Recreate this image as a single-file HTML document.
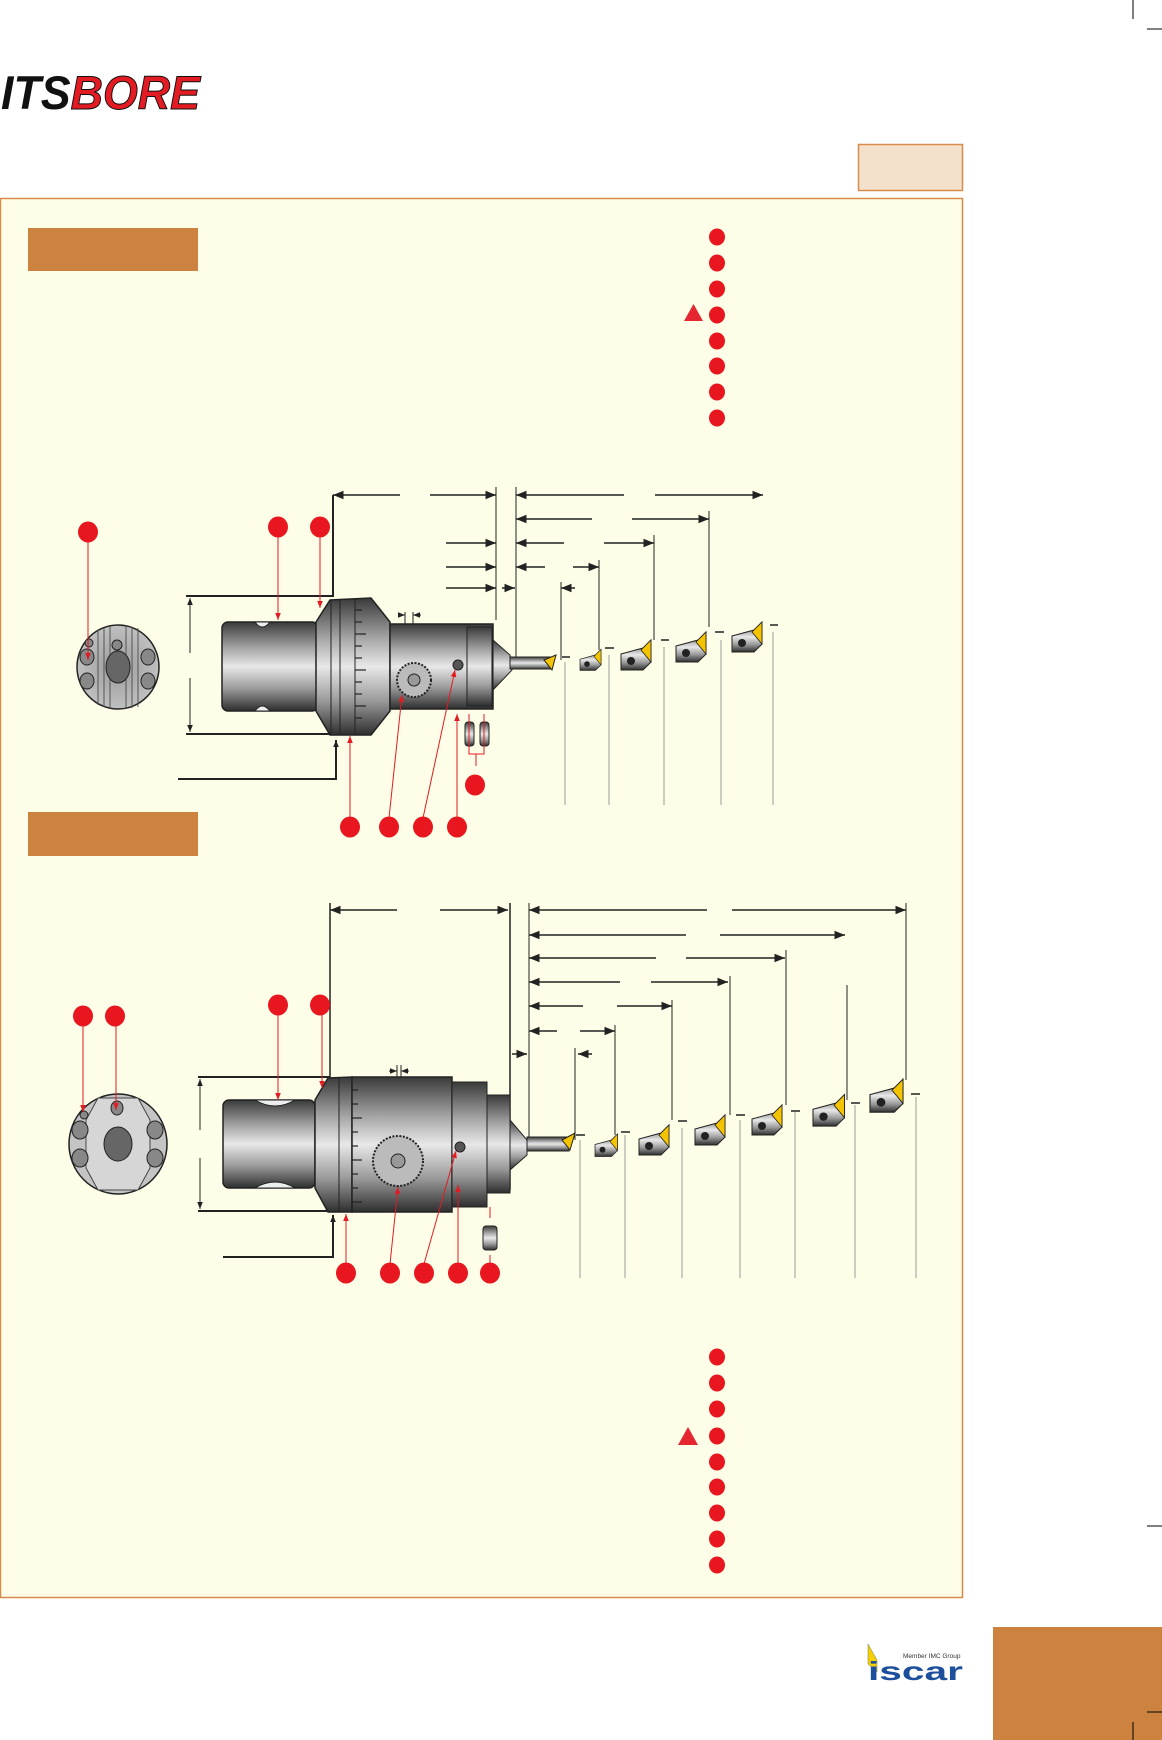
<!DOCTYPE html>
<html><head><meta charset="utf-8"><style>
html,body{margin:0;padding:0;background:#fff;}
svg{display:block;}
</style></head><body>
<svg width="1162" height="1740" viewBox="0 0 1162 1740" xmlns="http://www.w3.org/2000/svg" font-family="Liberation Sans, sans-serif">
<defs>
<linearGradient id="cyl" x1="0" y1="0" x2="0" y2="1">
<stop offset="0" stop-color="#3a3a3a"/><stop offset="0.3" stop-color="#a8a8a8"/><stop offset="0.5" stop-color="#e8e8e8"/><stop offset="0.75" stop-color="#9a9a9a"/><stop offset="1" stop-color="#2e2e2e"/>
</linearGradient>
<radialGradient id="disc" cx="0.5" cy="0.5" r="0.6">
<stop offset="0" stop-color="#9a9a9a"/><stop offset="1" stop-color="#c8c8c8"/>
</radialGradient>
<marker id="ar" viewBox="0 0 10 10" refX="10" refY="5" markerWidth="7" markerHeight="7" orient="auto-start-reverse"><path d="M0,1 L10,5 L0,9 z" fill="#222"/></marker>
<marker id="rr" viewBox="0 0 10 10" refX="10" refY="5" markerWidth="7" markerHeight="7" orient="auto-start-reverse"><path d="M0,1 L10,5 L0,9 z" fill="#e31b23"/></marker>
<g id="ins">
<path d="M0,6 L22,0 L30,-8 L30,14 L22,22 L0,22 z" fill="url(#cyl)" stroke="#222" stroke-width="1"/>
<path d="M20,2 L30,-8 L30,14 z" fill="#f5c400" stroke="#222" stroke-width="0.8"/>
<circle cx="10" cy="13" r="4" fill="#222"/>
</g>
</defs>

<!-- crop marks -->
<line x1="1133" y1="0" x2="1133" y2="19" stroke="#000" stroke-width="1"/>
<line x1="1147" y1="29" x2="1162" y2="29" stroke="#000" stroke-width="1"/>
<line x1="1147" y1="1526" x2="1162" y2="1526" stroke="#000" stroke-width="1"/>

<!-- logo -->
<text x="1" y="109" font-size="47" font-weight="bold" font-style="italic" textLength="199" lengthAdjust="spacingAndGlyphs"><tspan fill="#111">ITS</tspan><tspan fill="#e31b23" stroke="#111" stroke-width="1">BORE</tspan></text>

<!-- tan box -->
<rect x="858.5" y="144.5" width="104" height="46" fill="#f3e1cc" stroke="#d98b4b" stroke-width="1.5"/>

<!-- main panel -->
<rect x="0.5" y="198.5" width="962" height="1399" fill="#fefee8" stroke="#d98b4b" stroke-width="1.5"/>

<rect x="28" y="228" width="170" height="43" fill="#cd8340"/>
<rect x="28" y="812" width="170" height="44" fill="#cd8340"/>

<!-- top legend dots -->
<g fill="#e8171f">
<ellipse cx="717" cy="237" rx="8" ry="8.5"/><ellipse cx="717" cy="263" rx="8" ry="8.5"/><ellipse cx="717" cy="289" rx="8" ry="8.5"/><ellipse cx="717" cy="315" rx="8" ry="8.5"/>
<ellipse cx="717" cy="341" rx="8" ry="8.5"/><ellipse cx="717" cy="366" rx="8" ry="8.5"/><ellipse cx="717" cy="392" rx="8" ry="8.5"/><ellipse cx="717" cy="418" rx="8" ry="8.5"/>
<path d="M684,321 L703,321 L693.5,304 z" fill="#e32630"/>
</g>

<!-- ============ DIAGRAM 1 ============ -->
<g stroke="#222" stroke-width="1.5" fill="none">
<line x1="333" y1="495" x2="400" y2="495" marker-start="url(#ar)"/><line x1="430" y1="495" x2="496" y2="495" marker-end="url(#ar)"/>
<line x1="516" y1="495" x2="624" y2="495" marker-start="url(#ar)"/><line x1="655" y1="495" x2="763" y2="495" marker-end="url(#ar)"/>
<line x1="516" y1="519" x2="592" y2="519" marker-start="url(#ar)"/><line x1="632" y1="519" x2="709" y2="519" marker-end="url(#ar)"/>
<line x1="446" y1="543" x2="496" y2="543" marker-end="url(#ar)"/>
<line x1="516" y1="543" x2="564" y2="543" marker-start="url(#ar)"/><line x1="604" y1="543" x2="654" y2="543" marker-end="url(#ar)"/>
<line x1="446" y1="567" x2="496" y2="567" marker-end="url(#ar)"/>
<line x1="516" y1="567" x2="545" y2="567" marker-start="url(#ar)"/><line x1="573" y1="567" x2="599" y2="567" marker-end="url(#ar)"/>
<line x1="446" y1="588" x2="496" y2="588" marker-end="url(#ar)"/>
<line x1="502" y1="588" x2="515" y2="588" marker-end="url(#ar)"/>
<line x1="575" y1="588" x2="561" y2="588" marker-end="url(#ar)"/>
</g>
<g stroke="#222" stroke-width="1" fill="none">
<line x1="496" y1="487" x2="496" y2="620"/><line x1="516" y1="487" x2="516" y2="660"/>
<line x1="709" y1="511" x2="709" y2="627"/><line x1="654" y1="535" x2="654" y2="640"/>
<line x1="599" y1="560" x2="599" y2="650"/><line x1="561" y1="582" x2="561" y2="660"/>
<path d="M333,495 L333,596 L186,596" stroke-width="2"/>
<line x1="186" y1="734" x2="333" y2="734" stroke-width="2"/>
<line x1="190" y1="598" x2="190" y2="653" marker-start="url(#ar)"/>
<line x1="190" y1="678" x2="190" y2="732" marker-end="url(#ar)"/>
<path d="M178,779 L336,779 L336,740" stroke-width="2"/>
<line x1="336" y1="760" x2="336" y2="740" marker-end="url(#ar)"/>
<line x1="405" y1="612" x2="405" y2="665"/><line x1="413" y1="612" x2="413" y2="665"/>
<line x1="398" y1="615" x2="405" y2="615" marker-end="url(#ar)"/><line x1="421" y1="615" x2="413" y2="615" marker-end="url(#ar)"/>
</g>
<!-- front view 1 -->
<ellipse cx="118" cy="667" rx="41" ry="42" fill="url(#disc)" stroke="#222" stroke-width="1.5"/>
<g stroke="#555" stroke-width="1">
<line x1="98" y1="630" x2="98" y2="705"/><line x1="104" y1="628" x2="104" y2="707"/><line x1="110" y1="627" x2="110" y2="708"/><line x1="126" y1="627" x2="126" y2="708"/><line x1="132" y1="627" x2="132" y2="708"/><line x1="138" y1="628" x2="138" y2="707"/>
</g>
<ellipse cx="118" cy="667" rx="12" ry="16" fill="#666" stroke="#222"/>
<g fill="#888" stroke="#222"><ellipse cx="87" cy="657" rx="7" ry="8"/><ellipse cx="87" cy="681" rx="7" ry="8"/><ellipse cx="148" cy="657" rx="7" ry="8"/><ellipse cx="148" cy="681" rx="7" ry="8"/><circle cx="117" cy="645" r="5"/><circle cx="89" cy="643" r="4"/></g>
<!-- tool body 1 -->
<rect x="222" y="622" width="96" height="89" rx="6" fill="url(#cyl)" stroke="#222" stroke-width="1.5"/>
<path d="M255,622 Q262,632 270,622 z M255,711 Q262,701 270,711 z" fill="#eee" stroke="#222"/>
<path d="M316,622 L330,600 L371,598 L390,622 L390,711 L371,735 L330,735 L316,711 z" fill="url(#cyl)" stroke="#222" stroke-width="1.5"/>
<line x1="331" y1="600" x2="331" y2="735" stroke="#222"/><line x1="340" y1="600" x2="340" y2="735" stroke="#222"/><line x1="355" y1="598" x2="355" y2="735" stroke="#222"/>
<g stroke="#222" stroke-width="1.2"><line x1="355" y1="610" x2="362" y2="610"/><line x1="355" y1="622" x2="362" y2="622"/><line x1="355" y1="634" x2="366" y2="634"/><line x1="355" y1="646" x2="362" y2="646"/><line x1="355" y1="658" x2="362" y2="658"/><line x1="355" y1="670" x2="366" y2="670"/><line x1="355" y1="682" x2="362" y2="682"/><line x1="355" y1="694" x2="362" y2="694"/><line x1="355" y1="706" x2="366" y2="706"/><line x1="355" y1="718" x2="362" y2="718"/></g>
<rect x="390" y="624" width="103" height="85" fill="url(#cyl)" stroke="#222" stroke-width="1.5"/>
<rect x="467" y="627" width="25" height="79" fill="url(#cyl)" stroke="#222"/>
<circle cx="414" cy="680" r="17" fill="#bbb" stroke="#222" stroke-width="2" stroke-dasharray="2 1.5"/><circle cx="414" cy="680" r="6" fill="#999" stroke="#222"/>
<circle cx="458" cy="665" r="5" fill="#555" stroke="#222"/>
<path d="M493,640 L510,655 L512,670 L493,690 z" fill="url(#cyl)" stroke="#222"/>
<rect x="510" y="657" width="42" height="12" fill="url(#cyl)" stroke="#222"/>
<path d="M544,660 L556,655 L552,670 z" fill="#f5c400" stroke="#222"/>
<rect x="465" y="722" width="9" height="24" rx="3" fill="url(#cyl)" stroke="#222"/><rect x="480" y="722" width="9" height="24" rx="3" fill="url(#cyl)" stroke="#222"/>
<path d="M469,714 L469,754 L484,754 L484,714 M476,754 L476,766" stroke="#e31b23" fill="none"/>
<use href="#ins" transform="translate(580,655) scale(0.7)"/>
<use href="#ins" transform="translate(621,648) scale(1)"/>
<use href="#ins" transform="translate(676,640) scale(1)"/>
<use href="#ins" transform="translate(732,630) scale(1)"/>
<g stroke="#999" stroke-width="1"><line x1="565" y1="662" x2="565" y2="805"/><line x1="609" y1="655" x2="609" y2="805"/><line x1="664" y1="647" x2="664" y2="805"/><line x1="721" y1="640" x2="721" y2="805"/><line x1="773" y1="632" x2="773" y2="805"/></g>
<g stroke="#222" stroke-width="1.5"><line x1="562" y1="657" x2="570" y2="657"/><line x1="605" y1="648" x2="614" y2="648"/><line x1="661" y1="640" x2="669" y2="640"/><line x1="715" y1="632" x2="724" y2="632"/><line x1="770" y1="625" x2="778" y2="625"/></g>
<!-- red leaders 1 -->
<g stroke="#e31b23" stroke-width="1" fill="none">
<line x1="88" y1="540" x2="88" y2="660" marker-end="url(#rr)"/>
<line x1="278" y1="535" x2="278" y2="620" marker-end="url(#rr)"/>
<line x1="320" y1="535" x2="320" y2="608" marker-end="url(#rr)"/>
<line x1="350" y1="818" x2="350" y2="736" marker-end="url(#rr)"/>
<line x1="389" y1="818" x2="402" y2="695" marker-end="url(#rr)"/>
<line x1="423" y1="818" x2="455" y2="670" marker-end="url(#rr)"/>
<line x1="457" y1="818" x2="457" y2="714" marker-end="url(#rr)"/>
</g>
<g fill="#e8171f">
<ellipse cx="88" cy="532" rx="10" ry="10.5"/><ellipse cx="278" cy="527" rx="10" ry="10.5"/><ellipse cx="320" cy="527" rx="10" ry="10.5"/>
<ellipse cx="350" cy="827" rx="10" ry="10.5"/><ellipse cx="389" cy="827" rx="10" ry="10.5"/><ellipse cx="423" cy="827" rx="10" ry="10.5"/><ellipse cx="457" cy="827" rx="10" ry="10.5"/><ellipse cx="475" cy="785" rx="10" ry="10.5"/>
</g>

<!-- ============ DIAGRAM 2 ============ -->
<g stroke="#222" stroke-width="1.5" fill="none">
<line x1="330" y1="910" x2="397" y2="910" marker-start="url(#ar)"/><line x1="440" y1="910" x2="508" y2="910" marker-end="url(#ar)"/>
<line x1="529" y1="910" x2="707" y2="910" marker-start="url(#ar)"/><line x1="732" y1="910" x2="906" y2="910" marker-end="url(#ar)"/>
<line x1="529" y1="935" x2="686" y2="935" marker-start="url(#ar)"/><line x1="720" y1="935" x2="845" y2="935" marker-end="url(#ar)"/>
<line x1="529" y1="958" x2="656" y2="958" marker-start="url(#ar)"/><line x1="686" y1="958" x2="785" y2="958" marker-end="url(#ar)"/>
<line x1="529" y1="982" x2="620" y2="982" marker-start="url(#ar)"/><line x1="651" y1="982" x2="728" y2="982" marker-end="url(#ar)"/>
<line x1="529" y1="1006" x2="583" y2="1006" marker-start="url(#ar)"/><line x1="617" y1="1006" x2="672" y2="1006" marker-end="url(#ar)"/>
<line x1="529" y1="1031" x2="557" y2="1031" marker-start="url(#ar)"/><line x1="580" y1="1031" x2="615" y2="1031" marker-end="url(#ar)"/>
<line x1="512" y1="1054" x2="527" y2="1054" marker-end="url(#ar)"/>
<line x1="592" y1="1054" x2="578" y2="1054" marker-end="url(#ar)"/>
</g>
<g stroke="#222" stroke-width="1" fill="none">
<line x1="330" y1="903" x2="330" y2="1210" stroke-width="1.5"/><line x1="510" y1="903" x2="510" y2="1190" stroke-width="1.5"/><line x1="529" y1="903" x2="529" y2="1150"/>
<line x1="906" y1="903" x2="906" y2="1080"/><line x1="847" y1="985" x2="847" y2="1100"/><line x1="786" y1="950" x2="786" y2="1105"/>
<line x1="730" y1="976" x2="730" y2="1115"/><line x1="672" y1="1000" x2="672" y2="1120"/><line x1="615" y1="1025" x2="615" y2="1135"/><line x1="575" y1="1048" x2="575" y2="1140"/>
<line x1="198" y1="1077" x2="330" y2="1077" stroke-width="2"/><line x1="198" y1="1211" x2="330" y2="1211" stroke-width="2"/>
<line x1="200" y1="1079" x2="200" y2="1130" marker-start="url(#ar)"/><line x1="200" y1="1158" x2="200" y2="1209" marker-end="url(#ar)"/>
<path d="M223,1257 L333,1257 L333,1215" stroke-width="2"/>
<line x1="333" y1="1240" x2="333" y2="1215" marker-end="url(#ar)"/>
<line x1="397" y1="1065" x2="397" y2="1140"/><line x1="401" y1="1065" x2="401" y2="1140"/>
<line x1="389" y1="1071" x2="397" y2="1071" marker-end="url(#ar)"/><line x1="409" y1="1071" x2="401" y2="1071" marker-end="url(#ar)"/>
</g>
<!-- front view 2 -->
<ellipse cx="118" cy="1144" rx="49" ry="50" fill="#c4c4c4" stroke="#222" stroke-width="1.5"/>
<path d="M98,1098 L138,1098 L150,1120 L150,1168 L138,1190 L98,1190 L86,1168 L86,1120 z" fill="#d6d6d6" stroke="#444"/>
<ellipse cx="118" cy="1144" rx="14" ry="17" fill="#666" stroke="#222"/>
<g fill="#888" stroke="#222"><ellipse cx="80" cy="1130" rx="8" ry="9"/><ellipse cx="80" cy="1158" rx="8" ry="9"/><ellipse cx="155" cy="1130" rx="8" ry="9"/><ellipse cx="155" cy="1158" rx="8" ry="9"/><ellipse cx="117" cy="1108" rx="6" ry="7"/><circle cx="84" cy="1115" r="4"/></g>
<!-- tool body 2 -->
<rect x="223" y="1100" width="92" height="88" rx="6" fill="url(#cyl)" stroke="#222" stroke-width="1.5"/>
<path d="M255,1100 Q275,1112 295,1100 z M255,1188 Q275,1176 295,1188 z" fill="#eee" stroke="#222"/>
<path d="M315,1100 L328,1078 L352,1077 L352,1212 L328,1212 L315,1188 z" fill="url(#cyl)" stroke="#222" stroke-width="1.5"/>
<line x1="339" y1="1078" x2="339" y2="1212" stroke="#222"/>
<rect x="352" y="1077" width="100" height="135" fill="url(#cyl)" stroke="#222" stroke-width="1.5"/>
<rect x="452" y="1082" width="35" height="125" fill="url(#cyl)" stroke="#222"/>
<rect x="487" y="1095" width="23" height="98" fill="url(#cyl)" stroke="#222"/>
<g stroke="#222" stroke-width="1.2"><line x1="352" y1="1090" x2="358" y2="1090"/><line x1="352" y1="1104" x2="358" y2="1104"/><line x1="352" y1="1118" x2="362" y2="1118"/><line x1="352" y1="1132" x2="358" y2="1132"/><line x1="352" y1="1146" x2="358" y2="1146"/><line x1="352" y1="1160" x2="362" y2="1160"/><line x1="352" y1="1174" x2="358" y2="1174"/><line x1="352" y1="1188" x2="358" y2="1188"/><line x1="352" y1="1202" x2="362" y2="1202"/></g>
<circle cx="398" cy="1161" r="25" fill="#bbb" stroke="#222" stroke-width="2" stroke-dasharray="2 1.5"/><circle cx="398" cy="1161" r="7" fill="#999" stroke="#222"/>
<circle cx="460" cy="1147" r="5" fill="#555" stroke="#222"/>
<path d="M510,1120 L527,1140 L527,1155 L510,1170 z" fill="url(#cyl)" stroke="#222"/>
<rect x="527" y="1137" width="42" height="14" fill="url(#cyl)" stroke="#222"/>
<path d="M562,1140 L575,1133 L570,1150 z" fill="#f5c400" stroke="#222"/>
<rect x="483" y="1226" width="14" height="24" rx="3" fill="url(#cyl)" stroke="#222"/>
<use href="#ins" transform="translate(595,1140) scale(0.75)"/>
<use href="#ins" transform="translate(639,1133) scale(1)"/>
<use href="#ins" transform="translate(695,1123) scale(1)"/>
<use href="#ins" transform="translate(752,1113) scale(1)"/>
<use href="#ins" transform="translate(813,1103) scale(1.05)"/>
<use href="#ins" transform="translate(870,1088) scale(1.1)"/>
<g stroke="#999" stroke-width="1"><line x1="580" y1="1140" x2="580" y2="1278"/><line x1="625" y1="1135" x2="625" y2="1278"/><line x1="682" y1="1128" x2="682" y2="1278"/><line x1="740" y1="1120" x2="740" y2="1278"/><line x1="795" y1="1112" x2="795" y2="1278"/><line x1="855" y1="1105" x2="855" y2="1278"/><line x1="916" y1="1097" x2="916" y2="1278"/></g>
<g stroke="#222" stroke-width="1.5"><line x1="576" y1="1135" x2="585" y2="1135"/><line x1="621" y1="1132" x2="630" y2="1132"/><line x1="678" y1="1121" x2="687" y2="1121"/><line x1="736" y1="1115" x2="745" y2="1115"/><line x1="791" y1="1111" x2="800" y2="1111"/><line x1="851" y1="1103" x2="860" y2="1103"/><line x1="911" y1="1094" x2="920" y2="1094"/></g>
<!-- red leaders 2 -->
<g stroke="#e31b23" stroke-width="1" fill="none">
<line x1="83" y1="1025" x2="83" y2="1112" marker-end="url(#rr)"/>
<line x1="116" y1="1025" x2="116" y2="1110" marker-end="url(#rr)"/>
<line x1="278" y1="1015" x2="278" y2="1100" marker-end="url(#rr)"/>
<line x1="322" y1="1015" x2="322" y2="1088" marker-end="url(#rr)"/>
<line x1="346" y1="1264" x2="346" y2="1214" marker-end="url(#rr)"/>
<line x1="390" y1="1264" x2="398" y2="1187" marker-end="url(#rr)"/>
<line x1="424" y1="1264" x2="456" y2="1151" marker-end="url(#rr)"/>
<line x1="458" y1="1264" x2="458" y2="1185" marker-end="url(#rr)"/>
<line x1="490" y1="1207" x2="490" y2="1218"/><line x1="490" y1="1255" x2="490" y2="1264"/>
</g>
<g fill="#e8171f">
<ellipse cx="83" cy="1016" rx="10" ry="10.5"/><ellipse cx="115" cy="1016" rx="10" ry="10.5"/>
<ellipse cx="278" cy="1005" rx="10" ry="10.5"/><ellipse cx="320" cy="1005" rx="10" ry="10.5"/>
<ellipse cx="346" cy="1273" rx="10" ry="10.5"/><ellipse cx="390" cy="1273" rx="10" ry="10.5"/><ellipse cx="424" cy="1273" rx="10" ry="10.5"/><ellipse cx="458" cy="1273" rx="10" ry="10.5"/><ellipse cx="490" cy="1273" rx="10" ry="10.5"/>
</g>

<!-- bottom legend dots -->
<g fill="#e8171f">
<ellipse cx="717" cy="1357" rx="8" ry="8.5"/><ellipse cx="717" cy="1383" rx="8" ry="8.5"/><ellipse cx="717" cy="1409" rx="8" ry="8.5"/><ellipse cx="717" cy="1436" rx="8" ry="8.5"/><ellipse cx="717" cy="1462" rx="8" ry="8.5"/><ellipse cx="717" cy="1487" rx="8" ry="8.5"/><ellipse cx="717" cy="1513" rx="8" ry="8.5"/><ellipse cx="717" cy="1539" rx="8" ry="8.5"/><ellipse cx="717" cy="1565" rx="8" ry="8.5"/>
<path d="M678,1445 L698,1445 L688,1427 z" fill="#e32630"/>
</g>

<!-- iscar logo -->
<path d="M868,1644 L877,1660 L877,1672 L868,1664 z" fill="#f5d000" stroke="#776" stroke-width="0.5"/>
<text x="903" y="1658" font-size="6.5" fill="#333">Member IMC Group</text>
<text x="868" y="1680" font-size="26" font-weight="bold" fill="#1c4f9c" textLength="95" lengthAdjust="spacingAndGlyphs">iscar</text>

<!-- right orange box -->
<rect x="993" y="1627" width="169" height="113" fill="#cd8340"/>
<line x1="1147" y1="1712" x2="1162" y2="1712" stroke="#000"/>
<line x1="1133" y1="1722" x2="1133" y2="1740" stroke="#000"/>
</svg>
</body></html>
